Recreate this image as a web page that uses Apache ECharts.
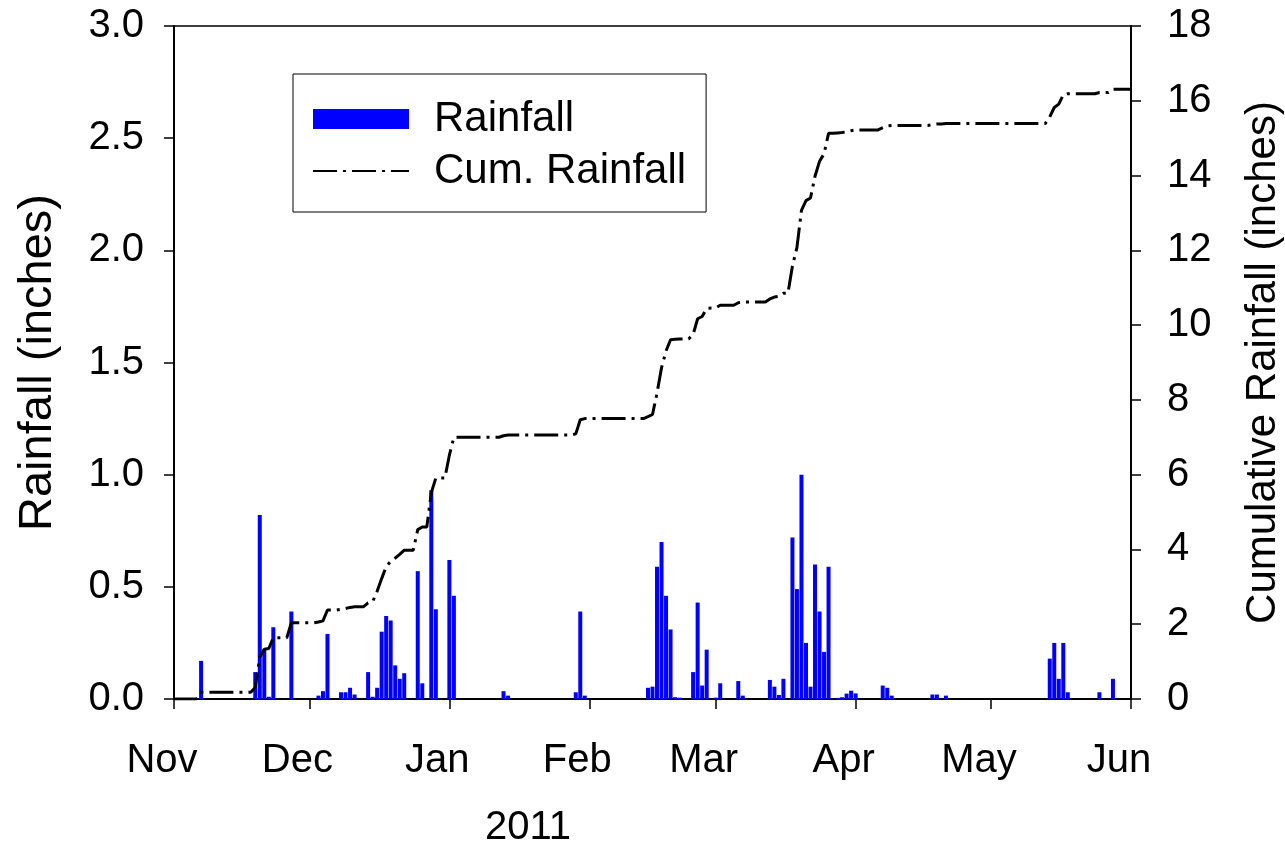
<!DOCTYPE html>
<html><head><meta charset="utf-8">
<script src="https://cdn.jsdelivr.net/npm/echarts@6/dist/echarts.min.js"></script>
<style>html,body{margin:0;padding:0;background:#fff}#c{width:1285px;height:846px}</style>
</head><body><div id="c"></div>
<script>
// Daily rainfall (inches)
const rainDates = ['2010-11-07','2010-11-19','2010-11-20','2010-11-21','2010-11-22','2010-11-23','2010-11-27',
 '2010-12-03','2010-12-04','2010-12-05','2010-12-08','2010-12-09','2010-12-10','2010-12-11',
 '2010-12-14','2010-12-15','2010-12-16','2010-12-17','2010-12-18','2010-12-19','2010-12-20','2010-12-21','2010-12-22',
 '2010-12-25','2010-12-26','2010-12-28','2010-12-29','2011-01-01','2011-01-02','2011-01-13','2011-01-14',
 '2011-01-29','2011-01-30','2011-01-31','2011-02-14','2011-02-15','2011-02-16','2011-02-17','2011-02-18','2011-02-19',
 '2011-02-20','2011-02-21','2011-02-24','2011-02-25','2011-02-26','2011-02-27','2011-03-01','2011-03-02',
 '2011-03-06','2011-03-07','2011-03-13','2011-03-14','2011-03-15','2011-03-16','2011-03-18','2011-03-19',
 '2011-03-20','2011-03-21','2011-03-22','2011-03-23','2011-03-24','2011-03-25','2011-03-26','2011-03-28',
 '2011-03-29','2011-03-30','2011-03-31','2011-04-01','2011-04-07','2011-04-08','2011-04-09','2011-04-18',
 '2011-04-19','2011-04-21','2011-05-14','2011-05-15','2011-05-16','2011-05-17','2011-05-18','2011-05-25','2011-05-28'];
const rainValues = [0.17,0.12,0.82,0.22,0.01,0.32,0.39,
 0.015,0.035,0.29,0.03,0.03,0.05,0.02,
 0.12,0.01,0.05,0.30,0.37,0.35,0.15,0.09,0.115,
 0.57,0.07,0.93,0.40,0.62,0.46,0.035,0.015,
 0.03,0.39,0.015,0.05,0.055,0.59,0.70,0.46,0.31,
 0.008,0.006,0.12,0.43,0.06,0.22,0.006,0.07,
 0.08,0.015,0.085,0.055,0.018,0.09,0.72,0.49,
 1.00,0.25,0.055,0.60,0.39,0.21,0.59,0.005,
 0.008,0.024,0.037,0.025,0.06,0.05,0.015,0.02,
 0.02,0.015,0.18,0.25,0.09,0.25,0.03,0.03,0.09];

// Cumulative rainfall (inches)
const cumDates = ['2010-11-01','2010-11-06','2010-11-07','2010-11-18','2010-11-19','2010-11-20','2010-11-21','2010-11-22',
 '2010-11-23','2010-11-26','2010-11-27','2010-12-02','2010-12-03','2010-12-04','2010-12-05','2010-12-07','2010-12-08',
 '2010-12-09','2010-12-10','2010-12-11','2010-12-13','2010-12-14','2010-12-15','2010-12-16','2010-12-17','2010-12-18',
 '2010-12-19','2010-12-20','2010-12-21','2010-12-22','2010-12-24','2010-12-25','2010-12-26','2010-12-27','2010-12-28',
 '2010-12-29','2010-12-31','2011-01-01','2011-01-02','2011-01-12','2011-01-13','2011-01-14','2011-01-28','2011-01-29',
 '2011-01-30','2011-01-31','2011-02-13','2011-02-14','2011-02-15','2011-02-16','2011-02-17','2011-02-18','2011-02-19',
 '2011-02-20','2011-02-21','2011-02-23','2011-02-24','2011-02-25','2011-02-26','2011-02-27','2011-03-01','2011-03-02',
 '2011-03-05','2011-03-06','2011-03-07','2011-03-12','2011-03-13','2011-03-14','2011-03-15','2011-03-16','2011-03-17',
 '2011-03-18','2011-03-19','2011-03-20','2011-03-21','2011-03-22','2011-03-23','2011-03-24','2011-03-25','2011-03-26',
 '2011-03-27','2011-03-28','2011-03-29','2011-03-30','2011-03-31','2011-04-01','2011-04-06','2011-04-07','2011-04-08',
 '2011-04-09','2011-04-17','2011-04-18','2011-04-19','2011-04-20','2011-04-21','2011-05-13','2011-05-14','2011-05-15',
 '2011-05-16','2011-05-17','2011-05-18','2011-05-24','2011-05-25','2011-05-27','2011-05-28','2011-06-01'];
const cumValues = [0,0,0.18,0.18,0.31,1.12,1.33,1.35,
 1.64,1.64,2.04,2.04,2.06,2.09,2.38,2.38,2.40,
 2.42,2.45,2.47,2.47,2.57,2.60,2.88,3.22,3.54,
 3.68,3.77,3.87,3.98,3.98,4.53,4.60,4.60,5.52,
 5.91,5.91,6.52,7.00,7.00,7.04,7.06,7.06,7.09,
 7.47,7.50,7.50,7.55,7.61,8.18,8.86,9.31,9.61,
 9.62,9.63,9.63,9.75,10.17,10.23,10.45,10.46,10.53,
 10.53,10.60,10.62,10.62,10.70,10.75,10.77,10.85,10.85,
 11.58,12.08,13.07,13.33,13.40,13.98,14.38,14.58,15.13,
 15.13,15.14,15.15,15.17,15.20,15.22,15.22,15.28,15.33,
 15.34,15.34,15.36,15.38,15.38,15.39,15.39,15.57,15.82,
 15.91,16.16,16.19,16.19,16.22,16.22,16.31,16.31];

const monthTicks = ['2010-11-01','2010-12-01','2011-01-01','2011-02-01','2011-03-01','2011-04-01','2011-05-01','2011-06-01'];
const monthLabels = ['Nov','Dec','Jan','Feb','Mar','Apr','May','Jun'];
const yearLabel = '2011';

const DAY = 86400000;
function ts(s){const p=s.split('-');return Date.UTC(+p[0],+p[1]-1,+p[2]);}
const origin = ts(monthTicks[0]);
function dayOf(s){return Math.round((ts(s)-origin)/DAY);}
const tickDays = monthTicks.map(dayOf);
const FONT = 'Liberation Sans, Arial, sans-serif';

const chart = echarts.init(document.getElementById('c'));
chart.setOption({
  animation:false,
  backgroundColor:'#fff',
  textStyle:{fontFamily:FONT,color:'#000'},
  grid:{left:174,top:26,width:957,height:673,show:true,borderColor:'#000',borderWidth:1.5,
        containLabel:false,outerBoundsMode:'none'},
  legend:{
    orient:'vertical',left:293,top:74,
    padding:[24,20,20,19],itemWidth:96,itemHeight:20,itemGap:10,
    borderColor:'#000',borderWidth:1,backgroundColor:'#fff',
    textStyle:{fontSize:42,fontFamily:FONT,color:'#000',padding:[0,0,0,20]},
    data:[{name:'Rainfall',icon:'rect'},{name:'Cum. Rainfall',itemStyle:{opacity:0}}]
  },
  xAxis:{
    type:'value',min:tickDays[0],max:tickDays[tickDays.length-1],
    axisLine:{lineStyle:{color:'#000',width:2}},
    axisTick:{show:true,length:10,lineStyle:{color:'#000',width:1.5},customValues:tickDays},
    axisLabel:{customValues:tickDays,fontSize:40,fontFamily:FONT,color:'#000',margin:42,padding:[0,24,0,0],
      formatter:function(v){const i=tickDays.indexOf(v);return i>=0?monthLabels[i]:'';}},
    splitLine:{show:false}
  },
  yAxis:[{
    type:'value',min:0,max:3,interval:0.5,position:'left',
    name:'Rainfall (inches)',nameLocation:'middle',nameRotate:90,nameGap:112,
    nameTextStyle:{fontSize:47,fontFamily:FONT,color:'#000'},
    axisLine:{show:true,lineStyle:{color:'#000',width:2}},
    axisTick:{show:true,length:10,lineStyle:{color:'#000',width:1.5}},
    axisLabel:{fontSize:40,fontFamily:FONT,color:'#000',margin:30,formatter:v=>v.toFixed(1)},
    splitLine:{show:false}
  },{
    type:'value',min:0,max:18,interval:2,position:'right',
    name:'Cumulative Rainfall (inches)',nameLocation:'middle',nameRotate:90,nameGap:111,
    nameTextStyle:{fontSize:42,fontFamily:FONT,color:'#000'},
    axisLine:{show:true,lineStyle:{color:'#000',width:2}},
    axisTick:{show:true,length:10,lineStyle:{color:'#000',width:1.5}},
    axisLabel:{fontSize:40,fontFamily:FONT,color:'#000',margin:36},
    splitLine:{show:false}
  }],
  graphic:[{type:'text',x:528,y:828,style:{text:yearLabel,font:'40px '+FONT,fill:'#000',align:'center',verticalAlign:'middle',textAlign:'center',textVerticalAlign:'middle'}}],
  series:[{
    name:'Rainfall',type:'bar',yAxisIndex:0,barWidth:4,
    itemStyle:{color:'#0000ff'},
    data:rainDates.map((d,i)=>[dayOf(d),rainValues[i]])
  },{
    name:'Cum. Rainfall',type:'line',yAxisIndex:1,symbol:'none',showSymbol:false,z:5,
    lineStyle:{color:'#000',width:3,type:[24,6,3,6]},
    itemStyle:{color:'#000'},
    data:cumDates.map((d,i)=>[dayOf(d),cumValues[i]])
  }]
});
</script></body></html>
